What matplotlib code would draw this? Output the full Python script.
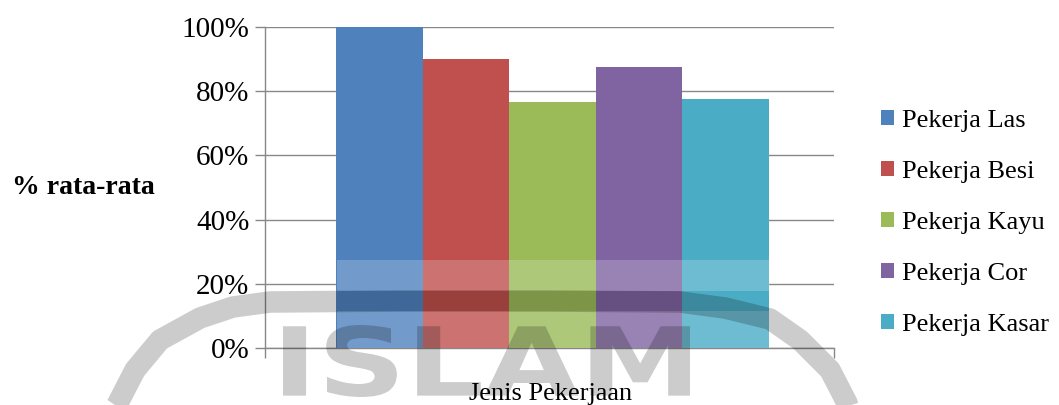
import matplotlib
matplotlib.use("Agg")
import matplotlib.pyplot as plt
from matplotlib.ticker import PercentFormatter
from matplotlib.textpath import TextPath
from matplotlib.font_manager import FontProperties
from matplotlib.patches import PathPatch, Rectangle
from matplotlib.lines import Line2D
from matplotlib.path import Path
import numpy as np

series = ["Pekerja Las", "Pekerja Besi", "Pekerja Kayu", "Pekerja Cor", "Pekerja Kasar"]
values = [1.00, 0.90, 0.765, 0.875, 0.775]
colors = ["#4F81BD", "#C0504D", "#9BBB59", "#8064A2", "#4BACC6"]
yticks = [0, 0.2, 0.4, 0.6, 0.8, 1.0]

plt.rcParams['font.family'] = ['Liberation Serif', 'DejaVu Serif']

W, H = 1059, 405
fig = plt.figure(figsize=(W / 100, H / 100), dpi=100)
ax = fig.add_axes([0.250, 0.1407, 0.538, 0.7926])

n = len(series)
w = 0.152
offsets = (np.arange(n) - (n - 1) / 2) * w + 0.005
handles = []
for off, v, c, lab in zip(offsets, values, colors, series):
    h = ax.bar(off, v, width=w, color=c, label=lab, zorder=3)
    handles.append(h)

ax.set_xlim(-0.5, 0.5)
ax.set_ylim(0, 1.0)
ax.set_yticks(yticks)
ax.yaxis.set_major_formatter(PercentFormatter(1.0, decimals=0))
ax.set_xticks([-0.5, 0.5])
ax.set_xticklabels([])
ax.tick_params(axis='y', length=7, width=1, color='#888888', labelsize=21, pad=4)
ax.tick_params(axis='x', length=7, width=1, color='#888888')
ax.grid(axis='y', color='#888888', linewidth=1, zorder=0)
for s in ['top', 'right']:
    ax.spines[s].set_visible(False)
for s in ['left', 'bottom']:
    ax.spines[s].set_color('#888888')
    ax.spines[s].set_linewidth(1)

fig.text(0.079, 0.536, "% rata-rata", fontsize=20, fontweight='bold', ha='center', va='center')
fig.text(0.52, 0.026, "Jenis Pekerjaan", fontsize=19, ha='center', va='center', zorder=4)

fig.legend(handles=handles, labels=series, loc='upper left', bbox_to_anchor=(0.822, 0.755),
           frameon=False, fontsize=19, handlelength=0.5, handleheight=0.5,
           handletextpad=0.3, labelspacing=1.1, borderaxespad=0)

# ---- watermark (decoration, pixel positions from top-left) ----
def fx(x):
    return x / W

def fy(y):
    return 1 - y / H

# lightened band over the bars
fig.add_artist(Rectangle((fx(337), fy(291)), fx(770) - fx(337), fy(260) - fy(291),
                         transform=fig.transFigure, facecolor='white', alpha=0.2,
                         edgecolor='none', zorder=2))
fig.add_artist(Rectangle((fx(337), fy(348)), fx(770) - fx(337), fy(311) - fy(348),
                         transform=fig.transFigure, facecolor='white', alpha=0.2,
                         edgecolor='none', zorder=2))

ring_x = [100, 117, 135, 160, 200, 233, 270, 400, 550, 680, 725, 770, 800, 830, 847, 855]
ring_y = [430, 405, 370, 340, 318, 307, 302, 301, 301, 302, 308, 319, 340, 370, 403, 430]
fig.add_artist(Line2D([fx(x) for x in ring_x], [fy(y) for y in ring_y],
                      transform=fig.transFigure, color='black', alpha=0.2,
                      linewidth=15.5, solid_capstyle='butt', solid_joinstyle='round',
                      zorder=2))

tp = TextPath((0, 0), "ISLAM", size=1,
              prop=FontProperties(family='DejaVu Sans', weight='bold'))
bb = tp.get_extents()
x0, x1 = 283, 690
ytop, ybot = 325, 397
sx = (x1 - x0) / bb.width
sy = (ybot - ytop) / bb.height
verts = tp.vertices.copy()
px = x0 + (verts[:, 0] - bb.x0) * sx
py = ybot - (verts[:, 1] - bb.y0) * sy
newverts = np.column_stack([px / W, 1 - py / H])
fig.add_artist(PathPatch(Path(newverts, tp.codes), transform=fig.transFigure,
                         facecolor='black', edgecolor='none', alpha=0.2, zorder=2))

fig.savefig("out.png", dpi=100)
